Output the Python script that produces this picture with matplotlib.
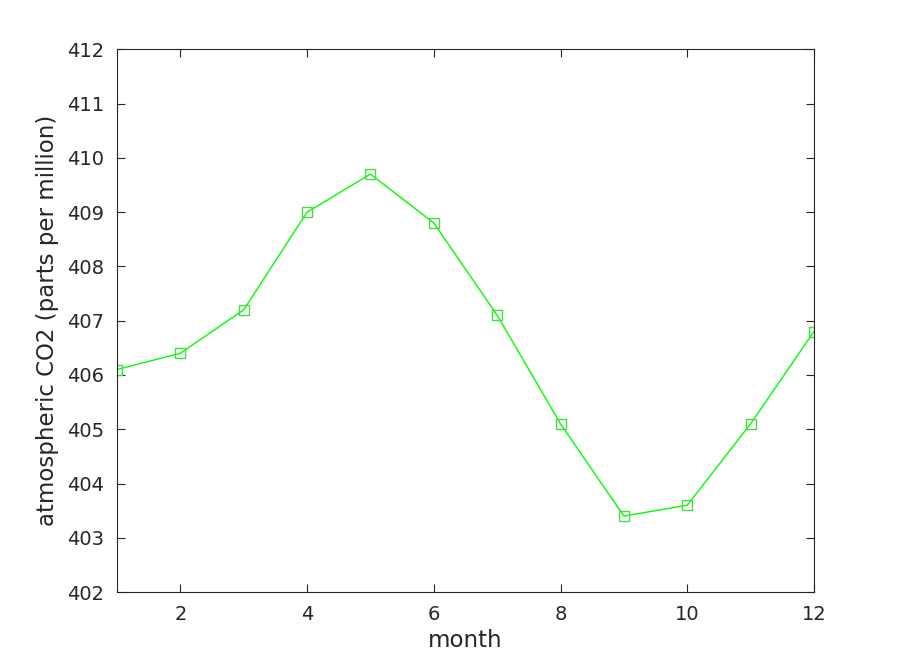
import numpy as np
import matplotlib
matplotlib.use('Agg')
import matplotlib.pyplot as plt

months = [1, 2, 3, 4, 5, 6, 7, 8, 9, 10, 11, 12]
co2 = [406.1, 406.4, 407.2, 409.0, 409.7, 408.8, 407.1, 405.1, 403.4, 403.6, 405.1, 406.8]
xticks = [2, 4, 6, 8, 10, 12]
yticks = list(range(402, 413))

fig = plt.figure(figsize=(9, 6.66), dpi=100)
ax = fig.add_axes([0.13, 0.111, 0.7744, 0.815])

ax.plot(months, co2, '-', color='#00ff00', lw=1,
        marker='s', markersize=7, markerfacecolor='none',
        markeredgecolor='#44dd44', markeredgewidth=1)

ax.set_xlim(1, 12)
ax.set_ylim(402, 412)
ax.set_xticks(xticks)
ax.set_yticks(yticks)
ax.tick_params(direction='in', top=True, right=True, labelsize=14,
               colors='#262626', length=6, pad=9)
for s in ax.spines.values():
    s.set_color('#262626')
ax.set_xlabel('month', fontsize=16.5, color='#262626', labelpad=4)
ax.set_ylabel('atmospheric CO2 (parts per million)', fontsize=16.5,
              color='#262626', labelpad=6)

fig.savefig('out.png', dpi=100)
